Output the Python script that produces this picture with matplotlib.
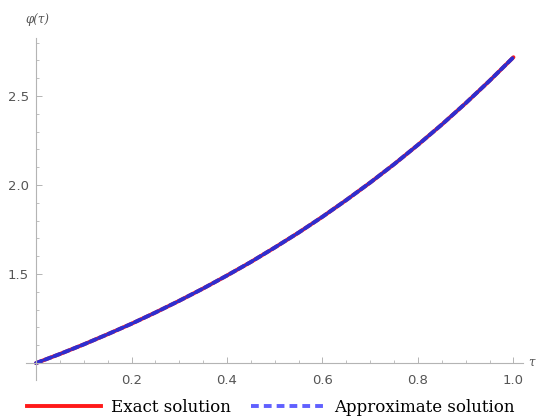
import matplotlib
matplotlib.use("Agg")
import matplotlib.pyplot as plt
from matplotlib.ticker import FixedLocator
from matplotlib.lines import Line2D

# data
tau = [0.00, 0.05, 0.10, 0.15, 0.20, 0.25, 0.30, 0.35, 0.40, 0.45, 0.50,
       0.55, 0.60, 0.65, 0.70, 0.75, 0.80, 0.85, 0.90, 0.95, 1.00]
phi_exact = [1.000, 1.051, 1.105, 1.162, 1.221, 1.284, 1.350, 1.419, 1.492, 1.568, 1.649,
             1.733, 1.822, 1.916, 2.014, 2.117, 2.226, 2.340, 2.460, 2.586, 2.718]
phi_approx = [1.000, 1.051, 1.105, 1.162, 1.221, 1.284, 1.350, 1.419, 1.492, 1.568, 1.649,
              1.733, 1.822, 1.916, 2.014, 2.117, 2.226, 2.340, 2.460, 2.586, 2.718]
x_ticks = [0.2, 0.4, 0.6, 0.8, 1.0]
x_tick_labels = ["0.2", "0.4", "0.6", "0.8", "1.0"]
y_ticks = [1.5, 2.0, 2.5]
y_tick_labels = ["1.5", "2.0", "2.5"]
series_names = ["Exact solution", "Approximate solution"]

W, H = 539, 416
fig = plt.figure(figsize=(W / 100, H / 100), dpi=100)
ax = fig.add_axes([26 / W, (H - 380) / H, (523 - 26) / W, (380 - 38) / H])

red = "#ff1a1a"
blue = "#2e2ed0"
ax.plot(tau, phi_exact, color=red, lw=2.8, solid_capstyle="round")
ax.plot(tau, phi_approx, color=blue, lw=2.8, ls=(0, (1.6, 0.9)),
        dash_capstyle="round")

ax.set_xlim(-0.021, 1.02)
ax.set_ylim(0.905, 2.826)

for s in ["top", "right"]:
    ax.spines[s].set_visible(False)
ax.spines["left"].set_position(("data", 0))
ax.spines["bottom"].set_position(("data", 1))
axis_col = "#b4b4b4"
ax.spines["left"].set_color(axis_col)
ax.spines["bottom"].set_color(axis_col)
ax.spines["left"].set_linewidth(0.8)
ax.spines["bottom"].set_linewidth(0.8)

ax.xaxis.set_major_locator(FixedLocator(x_ticks))
ax.set_xticklabels(x_tick_labels)
ax.xaxis.set_minor_locator(FixedLocator([0.05 * k for k in range(1, 21) if k % 4 != 0]))
ax.yaxis.set_major_locator(FixedLocator(y_ticks))
ax.set_yticklabels(y_tick_labels)
ax.yaxis.set_minor_locator(FixedLocator([1.1, 1.2, 1.3, 1.4, 1.6, 1.7, 1.8, 1.9,
                                         2.1, 2.2, 2.3, 2.4, 2.6, 2.7, 2.8]))
ax.tick_params(axis="both", which="major", direction="in", length=4, width=0.7,
               color=axis_col, labelcolor="#555555", labelsize=9.5)
ax.tick_params(axis="x", which="major", pad=8)
ax.tick_params(axis="y", which="major", pad=5)
ax.tick_params(axis="both", which="minor", direction="in", length=2.5, width=0.6,
               color=axis_col)

fig.text(37 / W, (H - 19) / H, "φ(τ)", ha="center", va="center",
         fontsize=8.5, style="italic", family="DejaVu Serif", color="#555555")
fig.text(531 / W, (H - 362) / H, "τ", ha="center", va="center",
         fontsize=8.5, style="italic", family="DejaVu Serif", color="#555555")

handles = [Line2D([], [], color=red, lw=2.8),
           Line2D([], [], color="#6060ff", lw=2.8, ls=(0, (2.0, 1.3)))]
fig.legend(handles, series_names, loc="center", bbox_to_anchor=(271 / W, (H - 407) / H),
           ncol=2, frameon=False, handlelength=4.4, handletextpad=0.6, columnspacing=1.2,
           prop={"family": "DejaVu Serif", "size": 12})

fig.savefig("out.png", dpi=100)
